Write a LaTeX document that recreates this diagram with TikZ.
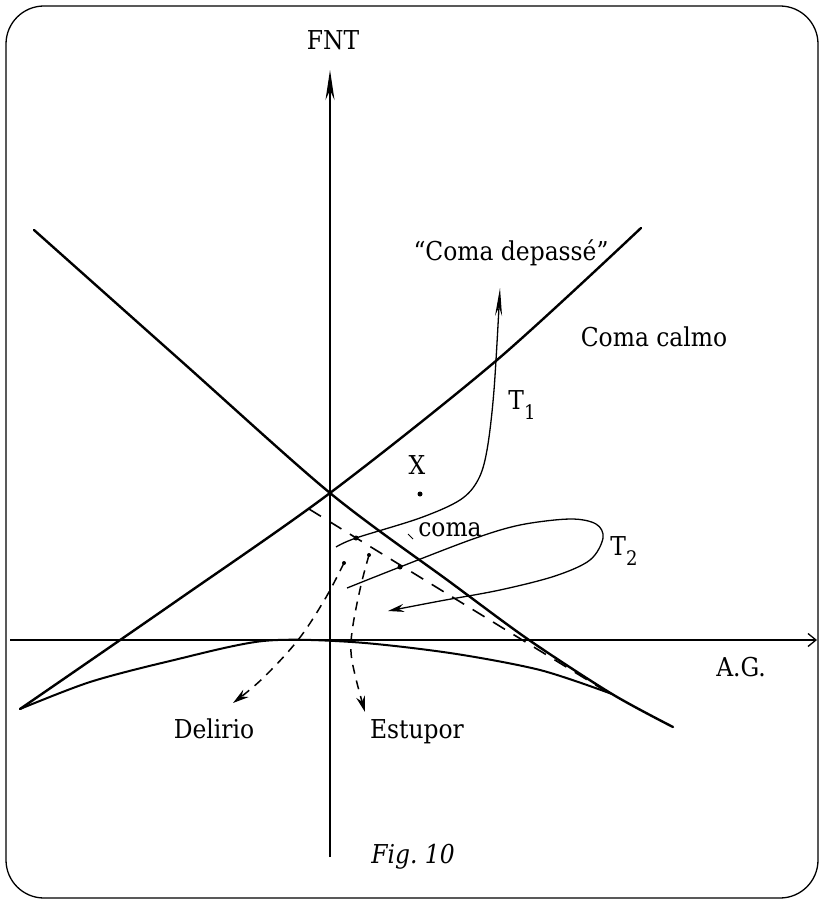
\documentclass[tikz,border=0pt]{standalone}
\usepackage{fontspec}
\setmainfont{DejaVu Serif Condensed}
\usetikzlibrary{arrows.meta}
\newcommand\lowidx[1]{\raisebox{-0.35em}{\fontsize{20}{22}\selectfont #1}}

\begin{document}
\begin{tikzpicture}[x=1pt, y=-1pt,
  frame/.style={line width=1.3pt, rounded corners=38pt},
  axis/.style={line width=1.3pt},
  branch/.style={line width=2.4pt, line cap=round},
  lowbranch/.style={line width=2pt, line cap=round},
  traj/.style={line width=1.3pt},
  border/.style={line width=1.6pt, dash pattern=on 14pt off 10pt},
  trend/.style={line width=1.5pt, dash pattern=on 9pt off 7pt},
  lab/.style={inner sep=0pt, font=\fontsize{26}{30}\selectfont},
  dot/.style={circle, fill, inner sep=0pt, minimum size=5pt}
]
  \useasboundingbox (0,0) rectangle (821,904);
  \draw[frame] (6,6) rectangle (818,898);

  % axes
  \coordinate (ybot) at (330,857);
  \coordinate (ytop) at (330,70);
  \coordinate (xleft) at (10,640);
  \coordinate (xright) at (817,640);
  \draw[axis, -{Stealth[length=30pt, width=9pt]}] (ybot) -- (ytop);
  \draw[axis, -{Straight Barb[length=8pt, width=13pt]}] (xleft) -- (xright);
  \node[lab] (fnt) at (333,40) {FNT};
  \node[lab] (ag) at (741,667) {A.G.};

  % the two branches and the lower fold
  \coordinate (cross) at (330,493);
  \coordinate (cuspL) at (20,709);
  \coordinate (cuspR) at (612,694);
  \draw[branch] plot[smooth, tension=0.5] coordinates {(cuspL) (175,602) (cross) (497,360) (641,228)};
  \draw[branch] plot[smooth, tension=0.5] coordinates {(34,230) (180,360) (cross) (450,582) (529,640) (cuspR) (673,727)};
  \draw[lowbranch] plot[smooth, tension=0.5] coordinates {(cuspL) (90,682) (170,661) (263,641) (352,642) (450,653) (540,670) (cuspR)};

  % dashed border of the coma region
  \coordinate (dA) at (309,509);
  \coordinate (dB) at (607,692);
  \draw[border] (dA) -- (dB);

  % trajectories
  \node[dot] (p1) at (356,538) {};
  \node[dot] (p2) at (400,567) {};
  \node[dot] (pX) at (420,494) {};
  \node[dot, minimum size=4pt] (pDel) at (344,563) {};
  \node[dot, minimum size=4pt] (pEst) at (369,555) {};
  \draw[traj, -{Stealth[length=28pt, width=7pt]}] plot[smooth, tension=0.55] coordinates {(336,547) (p1) (420,518) (460,500) (478,480) (487,450) (494,390) (500,288)};
  \draw[traj, -{Stealth[length=16pt, width=8pt]}] plot[smooth, tension=0.55] coordinates {(347,588) (p2) (473,539) (520,525) (570,519) (596,524) (603,538) (590,560) (555,576) (500,590) (440,601) (388,611)};
  \draw[trend, -{Stealth[length=16pt, width=9pt]}] plot[smooth, tension=0.6] coordinates {(pDel) (325,599) (298,640) (262,679) (233,703)};
  \draw[trend, -{Stealth[length=16pt, width=9pt]}] plot[smooth, tension=0.6] coordinates {(pEst) (361,585) (353,625) (351,652) (356,679) (365,712)};
  \draw[line width=1pt] (408,534) -- (413,539);

  % labels
  \node[lab] (depasse) at (511,253) {``Coma depassé''};
  \node[lab] (calmo) at (654,337) {Coma calmo};
  \node[lab] (t1) at (522,405) {T\lowidx{1}};
  \node[lab] (t2) at (624,551) {T\lowidx{2}};
  \node[lab] (xlab) at (417,465) {X};
  \node[lab] (coma) at (450,530) {coma};
  \node[lab] (delirio) at (214,729) {Delirio};
  \node[lab] (estupor) at (417,732) {Estupor};
  \node[lab, font=\fontsize{26}{30}\selectfont\itshape] (fig) at (413,857) {Fig.\ 10};
\end{tikzpicture}
\end{document}
